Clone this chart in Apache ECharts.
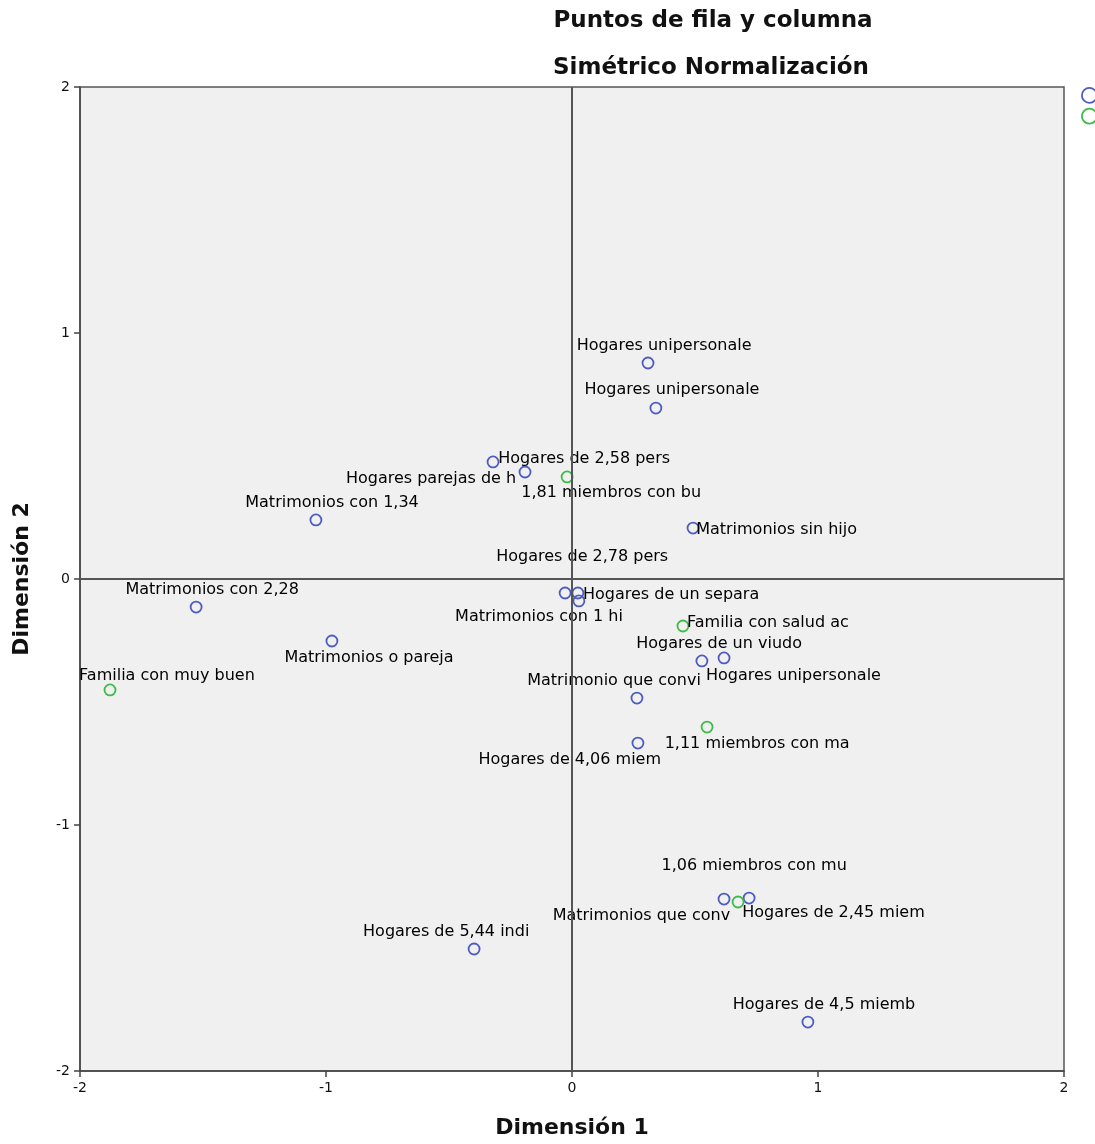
<!DOCTYPE html>
<html>
<head>
<meta charset="utf-8">
<script src="https://cdn.jsdelivr.net/npm/echarts@6/dist/echarts.min.js"></script>
<style>
html,body{margin:0;padding:0;background:#fff;}
#chart{width:1095px;height:1144px;}
</style>
</head>
<body>
<div id="chart"></div>
<script>
// Row points (Tipo de hogar)
const rowNames = [
  "Hogares unipersonale", "Hogares unipersonale", "Hogares de 2,58 pers", "Hogares parejas de h",
  "Matrimonios sin hijo", "Matrimonios con 1,34", "Hogares de 2,78 pers", "Hogares de un separa",
  "Matrimonios con 1 hi", "Hogares de un viudo", "Hogares unipersonale", "Matrimonio que convi",
  "Hogares de 4,06 miem", "Matrimonios con 2,28", "Matrimonios o pareja", "Matrimonios que conv",
  "Hogares de 2,45 miem", "Hogares de 5,44 indi", "Hogares de 4,5 miemb"
];
const rowDim1 = [0.309, 0.341, -0.321, -0.191, 0.492, -1.041, -0.028, 0.024, 0.028, 0.618, 0.528, 0.264, 0.268, -1.528, -0.976, 0.618, 0.720, -0.398, 0.959];
const rowDim2 = [0.878, 0.695, 0.476, 0.435, 0.207, 0.240, -0.057, -0.057, -0.089, -0.321, -0.333, -0.484, -0.667, -0.114, -0.252, -1.301, -1.297, -1.504, -1.801];

// Column points (Estado de salud)
const colNames = ["1,81 miembros con bu", "Familia con salud ac", "1,11 miembros con ma", "Familia con muy buen", "1,06 miembros con mu"];
const colDim1 = [-0.020, 0.451, 0.549, -1.878, 0.675];
const colDim2 = [0.415, -0.191, -0.602, -0.451, -1.313];

// label placement (style only): [dx, dy, align] relative to the point centre
const rowLabelPlace = [
  [17, -18, 'center'], [17, -19, 'center'], [6, -4, 'left'], [-8, 6, 'right'],
  [4, 1, 'left'], [17, -18, 'center'], [18, -37, 'center'], [6, 1, 'left'],
  [-39, 15, 'center'], [-4, -15, 'center'], [5, 14, 'left'], [-22, -18, 'center'],
  [24, 16, 'right'], [17, -18, 'center'], [38, 16, 'center'], [7, 16, 'right'],
  [-6, 14, 'left'], [-27, -18, 'center'], [17, -18, 'center']
];
const colLabelPlace = [
  [45, 15, 'center'], [5, -4, 'left'], [51, 16, 'center'], [-30, -15, 'left'], [17, -37, 'center']
];

const SYM = 11;
const LABEL_DY = 2;
const BLUE = '#4d5cc2';
const GREEN = '#3dbb47';

function buildData(names, xs, ys, places) {
  return names.map((n, i) => ({
    value: [xs[i], ys[i]],
    name: n,
    label: {
      show: true,
      formatter: n,
      position: [SYM / 2 + places[i][0], SYM / 2 + places[i][1] + LABEL_DY],
      align: places[i][2],
      verticalAlign: 'middle',
      color: '#000',
      opacity: 1,
      fontFamily: 'DejaVu Sans',
      fontSize: 16
    }
  }));
}

const chart = echarts.init(document.getElementById('chart'), null, { renderer: 'canvas' });
chart.setOption({
  animation: false,
  backgroundColor: '#ffffff',
  title: [
    { text: 'Puntos de fila y columna', left: 708, top: 5, textAlign: 'center',
      textStyle: { fontFamily: 'DejaVu Sans', fontWeight: 'bold', fontSize: 23, color: '#111' } },
    { text: 'Simétrico Normalización', left: 706, top: 52, textAlign: 'center',
      textStyle: { fontFamily: 'DejaVu Sans', fontWeight: 'bold', fontSize: 23, color: '#111' } }
  ],
  legend: {
    left: 1076, top: 82, orient: 'vertical', itemGap: 4, itemWidth: 16, itemHeight: 15,
    textStyle: { fontFamily: 'DejaVu Sans', fontSize: 14, color: '#111' },
    data: [
      { name: 'Tipo de hogar', icon: 'circle',
        itemStyle: { color: 'rgba(0,0,0,0)', borderColor: BLUE, borderWidth: 1.8, opacity: 1 } },
      { name: 'Estado de salud', icon: 'circle',
        itemStyle: { color: 'rgba(0,0,0,0)', borderColor: GREEN, borderWidth: 1.8, opacity: 1 } }
    ]
  },
  grid: {
    left: 80, right: 31, top: 87, bottom: 73, show: true,
    backgroundColor: '#f0f0f0', borderColor: '#555', borderWidth: 1.5
  },
  xAxis: {
    type: 'value', min: -2, max: 2, interval: 1,
    name: 'Dimensión 1', nameLocation: 'middle', nameGap: 46,
    nameTextStyle: { fontFamily: 'DejaVu Sans', fontWeight: 'bold', fontSize: 22, color: '#111' },
    axisLine: { show: true, onZero: false, lineStyle: { color: '#444', width: 1.5 } },
    axisTick: { show: true, length: 6, lineStyle: { color: '#444', width: 1.5 } },
    axisLabel: { fontFamily: 'DejaVu Sans', fontSize: 14, color: '#111', margin: 10 },
    splitLine: { show: false }
  },
  yAxis: {
    type: 'value', min: -2, max: 2, interval: 1,
    name: 'Dimensión 2', nameLocation: 'middle', nameGap: 47, nameRotate: 90,
    nameTextStyle: { fontFamily: 'DejaVu Sans', fontWeight: 'bold', fontSize: 22, color: '#111' },
    axisLine: { show: true, onZero: false, lineStyle: { color: '#444', width: 1.5 } },
    axisTick: { show: true, length: 6, lineStyle: { color: '#444', width: 1.5 } },
    axisLabel: { fontFamily: 'DejaVu Sans', fontSize: 14, color: '#111', margin: 10 },
    splitLine: { show: false }
  },
  series: [
    {
      name: 'Tipo de hogar', type: 'scatter', symbol: 'circle', symbolSize: SYM,
      itemStyle: { color: 'rgba(0,0,0,0)', borderColor: BLUE, borderWidth: 1.8, opacity: 1 },
      data: buildData(rowNames, rowDim1, rowDim2, rowLabelPlace),
      markLine: {
        silent: true, symbol: ['none', 'none'], animation: false,
        label: { show: false },
        lineStyle: { color: '#555', width: 2, type: 'solid', opacity: 1 },
        data: [{ xAxis: 0 }, { yAxis: 0 }]
      },
      z: 3
    },
    {
      name: 'Estado de salud', type: 'scatter', symbol: 'circle', symbolSize: SYM,
      itemStyle: { color: 'rgba(0,0,0,0)', borderColor: GREEN, borderWidth: 1.8, opacity: 1 },
      data: buildData(colNames, colDim1, colDim2, colLabelPlace),
      z: 4
    }
  ]
});
</script>
</body>
</html>
